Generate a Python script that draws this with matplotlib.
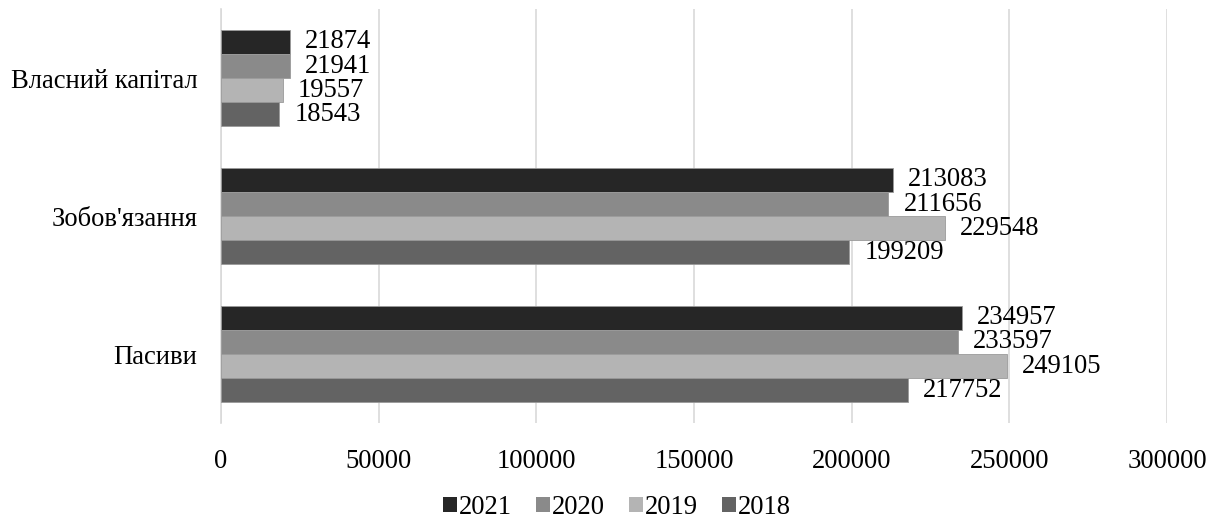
import numpy as np
import matplotlib
matplotlib.use("Agg")
import matplotlib.pyplot as plt
from matplotlib.patches import Patch

plt.rcParams['font.family'] = ['Liberation Serif', 'DejaVu Serif']

categories = ["Пасиви", "Зобов'язання", "Власний капітал"]
years = ["2021", "2020", "2019", "2018"]
values = {
    "2021": [234957, 213083, 21874],
    "2020": [233597, 211656, 21941],
    "2019": [249105, 229548, 19557],
    "2018": [217752, 199209, 18543],
}
colors = {"2021": "#262626", "2020": "#8a8a8a", "2019": "#b4b4b4", "2018": "#636363"}

fig = plt.figure(figsize=(12.15, 5.21), dpi=100)
ax = fig.add_axes([0.1819, 0.1881, 0.7786, 0.7946])

y = np.arange(len(categories))
h = 0.174
offsets = [1.5 * h, 0.5 * h, -0.5 * h, -1.5 * h]
fs = 19.2

for yr, off in zip(years, offsets):
    bars = ax.barh(y + off, values[yr], height=h, color=colors[yr],
                   edgecolor="#9a9a9a", linewidth=0.6, zorder=3)
    for b, v in zip(bars, values[yr]):
        ax.text(b.get_width() + 4800, b.get_y() + h / 2, str(v),
                va="center", ha="left", fontsize=fs, zorder=4)

ax.set_xlim(0, 300000)
ax.set_ylim(-0.5, 2.5)
ax.set_xticks(np.arange(0, 300001, 50000))
ax.set_yticks(y)
ax.set_yticklabels(categories)
ax.tick_params(axis="both", length=0, labelsize=fs)
ax.tick_params(axis="x", pad=19)
ax.tick_params(axis="y", pad=17)
ax.grid(axis="x", color="#d9d9d9", linewidth=1.2, zorder=0)
for s in ["top", "right", "bottom"]:
    ax.spines[s].set_visible(False)
ax.spines["left"].set_color("#d9d9d9")
ax.spines["left"].set_linewidth(1.2)

handles = [Patch(facecolor=colors[yr], edgecolor="none", label=yr) for yr in years]
fig.legend(handles=handles, loc="lower center", bbox_to_anchor=(0.508, -0.044),
           ncol=4, frameon=False, fontsize=fs, handlelength=0.5, handleheight=0.5,
           handletextpad=0.1, columnspacing=0.9)

fig.savefig("out.png", dpi=100)
